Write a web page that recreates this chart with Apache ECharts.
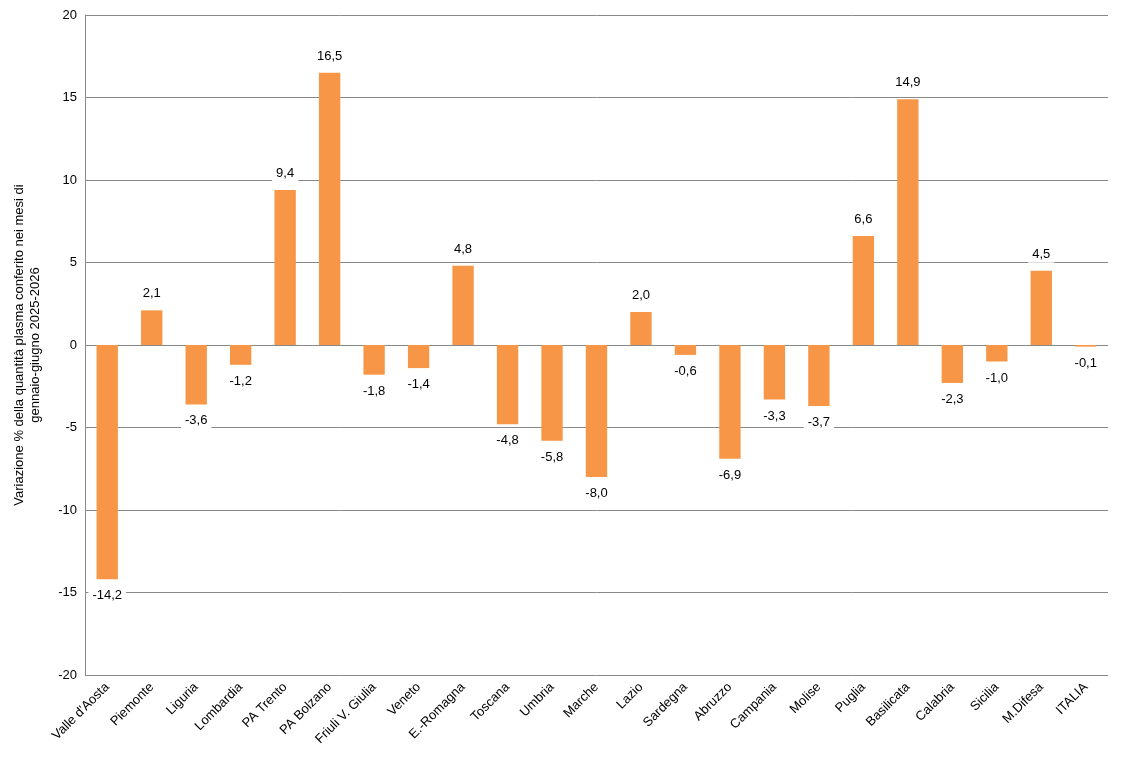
<!DOCTYPE html>
<html><head><meta charset="utf-8">
<script src="https://cdn.jsdelivr.net/npm/echarts@6/dist/echarts.min.js"></script>
<style>html,body{margin:0;background:#fff}#c{width:1124px;height:774px}</style>
</head><body><div id="c"></div>
<script>
const categories = ["Valle d'Aosta","Piemonte","Liguria","Lombardia","PA Trento","PA Bolzano","Friuli V. Giulia","Veneto","E.-Romagna","Toscana","Umbria","Marche","Lazio","Sardegna","Abruzzo","Campania","Molise","Puglia","Basilicata","Calabria","Sicilia","M.Difesa","ITALIA"];
const values = [-14.2,2.1,-3.6,-1.2,9.4,16.5,-1.8,-1.4,4.8,-4.8,-5.8,-8.0,2.0,-0.6,-6.9,-3.3,-3.7,6.6,14.9,-2.3,-1.0,4.5,-0.1];
const yTitle = "Variazione % della quantità plasma conferito nei mesi di\ngennaio-giugno 2025-2026";
const fmt = v => v.toFixed(1).replace('.', ',');
const font = 'Liberation Sans';
const chart = echarts.init(document.getElementById('c'));
chart.setOption({
  animation: false,
  grid: { left: 85, right: 16, top: 15, bottom: 99 },
  xAxis: {
    type: 'category', data: categories,
    axisLine: { show: false }, axisTick: { show: false },
    axisLabel: { rotate: 45, interval: 0, color: '#000', fontSize: 13, fontFamily: font, margin: 10 }
  },
  yAxis: {
    type: 'value', min: -20, max: 20, interval: 5,
    name: yTitle, nameLocation: 'middle', nameGap: 42, nameRotate: 90,
    nameTextStyle: { color: '#000', fontSize: 13, fontFamily: font, lineHeight: 16 },
    axisLine: { show: true, lineStyle: { color: '#888' } }, axisTick: { show: false },
    axisLabel: { color: '#000', fontSize: 13, fontFamily: font, formatter: v => String(v) },
    splitLine: { lineStyle: { color: '#888' } }
  },
  series: [{
    type: 'bar', barWidth: '48%',
    itemStyle: { color: '#F79646' },
    data: values.map(v => ({
      value: v,
      label: {
        show: true, position: v >= 0 ? 'top' : 'bottom', distance: 8,
        formatter: p => fmt(p.value), color: '#000', fontSize: 13, fontFamily: font,
        backgroundColor: '#fff', padding: [2, 4]
      }
    }))
  }]
});
</script></body></html>
